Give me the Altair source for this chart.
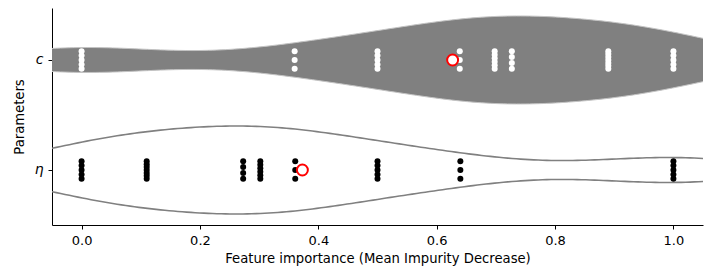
import altair as alt
import pandas as pd

# Feature importances per parameter (value, how many runs gave it)
eta_values = [0.0, 0.11, 0.273, 0.302, 0.361, 0.5, 0.64, 1.0]
eta_counts = [5, 7, 4, 6, 3, 5, 3, 5]
c_values = [1.0, 0.89, 0.727, 0.698, 0.639, 0.5, 0.36, 0.0]
c_counts = [5, 7, 4, 6, 3, 5, 3, 5]
params = ["c", "η"]
x_ticks = [0.0, 0.2, 0.4, 0.6, 0.8, 1.0]

rows = []
for p, vals, cnts in [("c", c_values, c_counts), ("η", eta_values, eta_counts)]:
    for v, n in zip(vals, cnts):
        for _ in range(n):
            rows.append({"param": p, "idx": params.index(p), "value": v})
df = pd.DataFrame(rows)

BW = 0.14
FONT = "DejaVu Sans"

xscale = alt.Scale(domain=[-0.05, 1.05], nice=False, zero=False)
yscale = alt.Scale(domain=[-0.4726, 1.5], reverse=True, nice=False, zero=False)
xaxis = alt.Axis(values=x_ticks, format=".1f", title="Feature importance (Mean Impurity Decrease)", grid=False)
yaxis = alt.Axis(values=[0, 1], labelExpr="datum.value == 0 ? 'c' : 'η'", title="Parameters",
                 grid=False, labelFontStyle="italic", labelFontSize=14)

base = alt.Chart(df)


def violin(p):
    return (
        base.transform_filter(alt.datum.param == p)
        .transform_density("value", groupby=["param", "idx"], bandwidth=BW,
                           extent=[-0.6, 1.6], steps=300, as_=["value", "density"])
        .transform_joinaggregate(maxd="max(density)", groupby=["param"])
        .transform_calculate(lo="datum.idx - 0.4*datum.density/datum.maxd",
                             hi="datum.idx + 0.4*datum.density/datum.maxd")
    )


v_c = violin("c").mark_area(clip=True, fill="#808080", stroke="#c4c4c4", strokeWidth=1).encode(
    x=alt.X("value:Q", scale=xscale, axis=xaxis),
    y=alt.Y("lo:Q", scale=yscale, axis=yaxis),
    y2="hi:Q",
)
v_eta = violin("η").mark_area(clip=True, fill="white", fillOpacity=0, stroke="#808080", strokeWidth=1.6).encode(
    x=alt.X("value:Q", scale=xscale, axis=xaxis),
    y=alt.Y("lo:Q", scale=yscale, axis=yaxis),
    y2="hi:Q",
)

pts = (
    base.transform_window(rank="row_number()", groupby=["param", "value"])
    .transform_joinaggregate(cnt="count()", groupby=["param", "value"])
    .transform_calculate(yj="datum.idx + (datum.cnt > 1 ? ((datum.rank-1)/(datum.cnt-1) - 0.5) * 0.16 : 0)")
    .mark_circle(size=36, opacity=1)
    .encode(
        x=alt.X("value:Q", scale=xscale, axis=xaxis),
        y=alt.Y("yj:Q", scale=yscale, axis=yaxis),
        color=alt.Color("param:N", scale=alt.Scale(domain=params, range=["white", "black"]), legend=None),
    )
)

means = (
    base.transform_aggregate(m="mean(value)", groupby=["param", "idx"])
    .mark_point(shape="circle", size=120, fill="white", fillOpacity=1, stroke="red", strokeWidth=2, opacity=1)
    .encode(
        x=alt.X("m:Q", scale=xscale, axis=xaxis),
        y=alt.Y("idx:Q", scale=yscale, axis=yaxis),
    )
)

chart = (
    alt.layer(v_c, v_eta, pts, means)
    .properties(width=651, height=217, autosize=alt.AutoSizeParams(type="none"),
                padding={"left": 44, "top": 0, "right": 7, "bottom": 44})
    .configure_view(stroke=None)
    .configure_axis(domainColor="black", tickColor="black", domainWidth=1, tickSize=4, labelPadding=5,
                    labelFont=FONT, labelFontSize=13, labelColor="black", titleFont=FONT, titleFontSize=13.2,
                    titleFontWeight="normal", titleColor="black")
    .configure_axisX(titlePadding=5)
    .configure_axisY(titlePadding=8)
)

chart.save("out.html", embed_options={"renderer": "svg", "actions": False})
